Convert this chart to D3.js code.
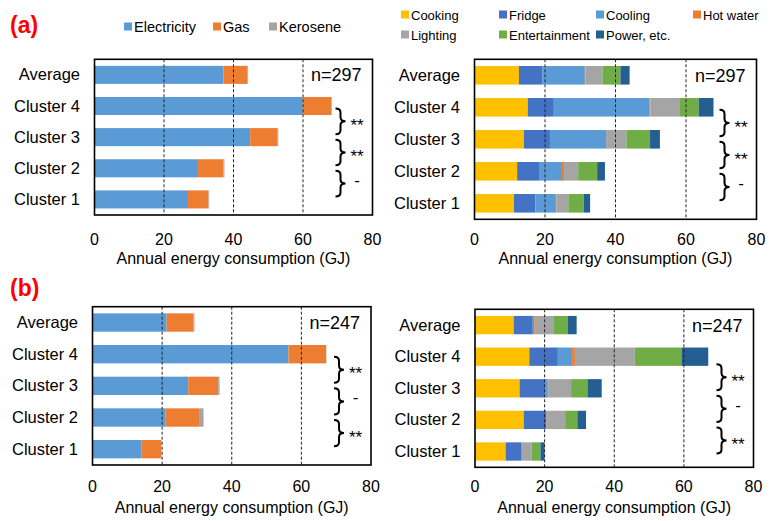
<!DOCTYPE html>
<html>
<head>
<meta charset="utf-8">
<script src="https://cdn.jsdelivr.net/npm/d3@7"></script>
<style>
  body { margin: 0; background: #fff; }
  text { font-family: Arial, "Liberation Sans", sans-serif; fill: #000; }
</style>
</head>
<body>
<svg id="chart" width="770" height="521"></svg>
<script>
// categories, top to bottom
var categories = ["Average", "Cluster 4", "Cluster 3", "Cluster 2", "Cluster 1"];
var xTicks = [0, 20, 40, 60, 80];

// fuel breakdown (GJ)
var fuelKeys = ["Electricity", "Gas", "Kerosene"];
var fuelColors = ["#5B9BD5", "#ED7D31", "#A5A5A5"];
var electricityA = [37.1, 59.9, 44.8, 29.8, 26.9];
var gasA         = [6.9, 8.2, 7.9, 7.3, 5.9];
var keroseneA    = [0.2, 0.2, 0.2, 0.3, 0.2];
var electricityB = [21.3, 56.3, 27.5, 20.9, 14.0];
var gasB         = [7.7, 10.8, 8.6, 9.7, 5.7];
var keroseneB    = [0.3, 0.1, 0.4, 1.3, 0.1];

// end-use breakdown (GJ)
var useKeys = ["Cooking", "Fridge", "Cooling", "Hot water", "Lighting", "Entertainment", "Power, etc."];
var useColors = ["#FFC000", "#4472C4", "#5B9BD5", "#ED7D31", "#A5A5A5", "#70AD47", "#255E91"];
var cookingA  = [12.6, 15.1, 14.0, 12.1, 11.2];
var fridgeA   = [6.6, 7.4, 7.4, 6.2, 6.1];
var coolingA  = [12.1, 27.2, 16.1, 6.5, 5.8];
var hotwaterA = [0.2, 0.2, 0.1, 0.6, 0.1];
var lightingA = [4.8, 8.4, 5.5, 4.0, 3.4];
var entertA   = [5.1, 5.3, 6.7, 5.4, 4.4];
var powerA    = [2.6, 4.2, 2.8, 2.2, 1.8];
var cookingB  = [11.1, 15.6, 12.8, 14.0, 8.8];
var fridgeB   = [5.5, 8.2, 7.5, 6.4, 4.6];
var coolingB  = [0.4, 4.1, 0.4, 0.2, 0.1];
var hotwaterB = [0.2, 0.8, 0.3, 0.1, 0.0];
var lightingB = [5.5, 17.2, 6.6, 5.2, 2.8];
var entertB   = [3.9, 13.4, 4.7, 3.5, 2.5];
var powerB    = [2.6, 7.7, 4.1, 2.5, 1.2];

// sample sizes and significance between neighbouring clusters
var sampleN = ["n=297", "n=247"];
var sigA = ["**", "**", "-"];
var sigB = ["**", "-", "**"];

var svg = d3.select("#chart");

function rows(keys, series) {
    return categories.map(function(c, i) {
        var r = { cat: c };
        keys.forEach(function(k, j) { r[k] = series[j][i]; });
        return r;
    });
}

function drawPanel(p) {
    var g = svg.append("g");
    var x = d3.scaleLinear().domain([0, 80]).range([p.left, p.right]);
    var y = d3.scaleBand().domain(categories).range([p.top, p.bottom])
        .paddingInner(0.42).paddingOuter(0.21);

    var stack = d3.stack().keys(p.keys)(rows(p.keys, p.series));

    g.selectAll("g.layer").data(stack).enter().append("g")
        .attr("class", "layer")
        .attr("fill", function(d, i) { return p.colors[i]; })
        .selectAll("rect").data(function(d) { return d; }).enter().append("rect")
        .attr("x", function(d) { return x(d[0]); })
        .attr("y", function(d) { return y(d.data.cat); })
        .attr("width", function(d) { return Math.max(0, x(d[1]) - x(d[0])); })
        .attr("height", y.bandwidth());

    // dashed gridlines
    g.selectAll("line.grid").data([20, 40, 60]).enter().append("line")
        .attr("x1", function(d) { return x(d); })
        .attr("x2", function(d) { return x(d); })
        .attr("y1", p.top)
        .attr("y2", p.bottom)
        .attr("stroke", "#222")
        .attr("stroke-width", 1)
        .attr("stroke-dasharray", "3,2");

    g.append("rect")
        .attr("x", p.left).attr("y", p.top)
        .attr("width", p.right - p.left).attr("height", p.bottom - p.top)
        .attr("fill", "none").attr("stroke", "#000").attr("stroke-width", 1.6);

    g.selectAll("text.cat").data(categories).enter().append("text")
        .attr("x", p.left - 14.5)
        .attr("y", function(d) { return y(d) + y.bandwidth() / 2 + 5.5; })
        .attr("text-anchor", "end")
        .attr("font-size", "16.5px")
        .text(function(d) { return d; });

    g.selectAll("text.tick").data(xTicks).enter().append("text")
        .attr("x", function(d) { return x(d); })
        .attr("y", p.tickY)
        .attr("text-anchor", "middle")
        .attr("font-size", "16px")
        .text(function(d) { return d; });

    g.append("text")
        .attr("x", (p.left + p.right) / 2)
        .attr("y", p.titleY)
        .attr("text-anchor", "middle")
        .attr("font-size", "16px")
        .text("Annual energy consumption (GJ)");

    g.append("text")
        .attr("x", p.right - 11)
        .attr("y", y("Average") + y.bandwidth() / 2 + 6.5)
        .attr("text-anchor", "end")
        .attr("font-size", "18px")
        .text(p.n);

    // curly brackets between clusters
    var bx = p.right - 37, w = 5, r = 4;
    p.sig.forEach(function(s, i) {
        var c1 = y(categories[i + 1]) + y.bandwidth() / 2 + 2.5 + p.shift;
        var c2 = y(categories[i + 2]) + y.bandwidth() / 2 - 3 + p.shift;
        var m = (c1 + c2) / 2;
        var path = "M" + bx + "," + c1 +
            " Q" + (bx + w) + "," + c1 + " " + (bx + w) + "," + (c1 + r) +
            " L" + (bx + w) + "," + (m - r) +
            " Q" + (bx + w) + "," + m + " " + (bx + 2 * w) + "," + m +
            " Q" + (bx + w) + "," + m + " " + (bx + w) + "," + (m + r) +
            " L" + (bx + w) + "," + (c2 - r) +
            " Q" + (bx + w) + "," + c2 + " " + bx + "," + c2;
        g.append("path").attr("d", path)
            .attr("fill", "none").attr("stroke", "#000").attr("stroke-width", 2);
        g.append("text")
            .attr("x", p.right - 15.5)
            .attr("y", s == "-" ? m + 2 : m + 9.5)
            .attr("text-anchor", "middle")
            .attr("font-size", "17px")
            .text(s);
    });
}

function legend(items, colors, positions, fontSize) {
    items.forEach(function(t, i) {
        var pos = positions[i];
        svg.append("rect")
            .attr("x", pos[0]).attr("y", pos[1] - 4)
            .attr("width", 8).attr("height", 8)
            .attr("fill", colors[i]);
        svg.append("text")
            .attr("x", pos[0] + 10).attr("y", pos[1] + 5)
            .attr("font-size", fontSize)
            .text(t);
    });
}

legend(fuelKeys, fuelColors, [[124, 26.5], [213, 26.5], [269, 26.5]], "14.5px");
legend(useKeys, useColors, [[401, 14.5], [499, 14.5], [596, 14.5], [693, 14.5],
                            [401, 34.5], [499, 34.5], [596, 34.5]], "13px");

svg.append("text").attr("x", 10).attr("y", 33)
    .attr("font-size", "23px").attr("font-weight", "bold")
    .style("fill", "#FF0000").text("(a)");
svg.append("text").attr("x", 10).attr("y", 296)
    .attr("font-size", "23px").attr("font-weight", "bold")
    .style("fill", "#FF0000").text("(b)");

drawPanel({ left: 94.5, right: 372.5, top: 59.3, bottom: 215, tickY: 245, titleY: 264, shift: 0,
    keys: fuelKeys, colors: fuelColors, series: [electricityA, gasA, keroseneA], n: sampleN[0], sig: sigA });
drawPanel({ left: 474.5, right: 756.5, top: 59.3, bottom: 219.3, tickY: 245, titleY: 264, shift: 0,
    keys: useKeys, colors: useColors,
    series: [cookingA, fridgeA, coolingA, hotwaterA, lightingA, entertA, powerA], n: sampleN[0], sig: sigA });
drawPanel({ left: 92.5, right: 371, top: 306.7, bottom: 465, tickY: 492, titleY: 513, shift: 0,
    keys: fuelKeys, colors: fuelColors, series: [electricityB, gasB, keroseneB], n: sampleN[1], sig: sigB });
drawPanel({ left: 475, right: 753.5, top: 309.3, bottom: 467.3, tickY: 492, titleY: 513, shift: 5,
    keys: useKeys, colors: useColors,
    series: [cookingB, fridgeB, coolingB, hotwaterB, lightingB, entertB, powerB], n: sampleN[1], sig: sigB });
</script>
</body>
</html>
